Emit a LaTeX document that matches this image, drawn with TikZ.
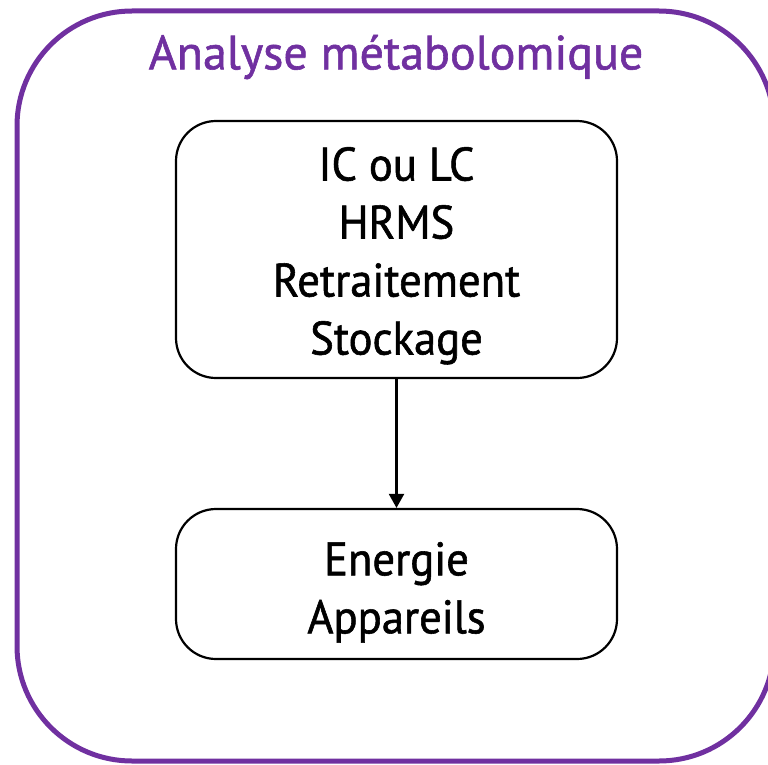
\documentclass[tikz,border=0pt]{standalone}
\usepackage{fontspec}
\setmainfont{PT Sans}[FakeBold=1.2]
\newfontfamily\etroit{PT Sans}[FakeStretch=0.95, FakeBold=1.2]
\usetikzlibrary{positioning,arrows.meta}
\definecolor{violetA}{HTML}{7030A0}
\tikzset{
    boite/.style={draw, line width=2.2pt, rounded corners=40pt, align=center,
      minimum width=441pt, inner sep=0pt, font=\etroit\fontsize{47}{58}\selectfont},
  }

\begin{document}
\begin{tikzpicture}[x=1pt,y=-1pt]
				  %cadre
				  \useasboundingbox (0,0) rectangle (768,765);
				  \clip (0,0) rectangle (768,765);
				  \draw[violetA, line width=5pt, rounded corners=115pt] (17,11) rectangle (774,761);
				  \node[violetA, font=\fontsize{48}{56}\selectfont] (titre) at (396,57) {Analyse métabolomique};

				  %boites
				  \node[boite, minimum height=257pt] (traitement) at (396.5,249.5)
				    {\rule{0pt}{46pt}IC ou LC\\HRMS\\Retraitement\\Stockage};
				  \node[boite, minimum height=150pt] (materiel) at (396.5,584)
				    {\rule{0pt}{50pt}Energie\\Appareils};

				  %fleche
				  \draw[line width=2.2pt, -{Triangle[length=14pt, width=15pt]}] (traitement) -- (materiel);
\end{tikzpicture}
\end{document}
